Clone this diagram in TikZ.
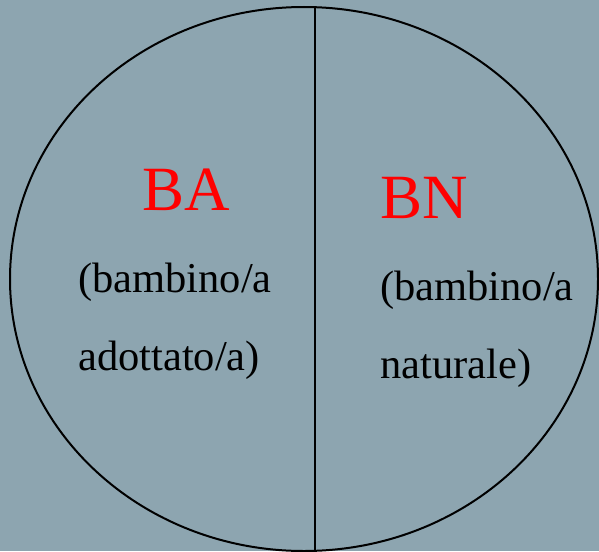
\documentclass[tikz,border=0pt]{standalone}
\usepackage{fontspec}
\setmainfont{Liberation Serif}
\usepackage{xcolor}
\usetikzlibrary{positioning}
\definecolor{slate}{RGB}{141,165,176}

\begin{document}
\begin{tikzpicture}[x=1pt, y=-1pt,
  title/.style={anchor=base west, inner sep=0pt, text=red, font=\fontsize{63}{63}\selectfont},
  desc/.style={anchor=base west, inner sep=0pt, font=\fontsize{42.5}{42.5}\selectfont}]
% Background
\fill[slate] (0,0) rectangle (599,551);
\useasboundingbox (0,0) rectangle (599,551);
% Circle split in two
\draw[line width=2pt] (304,279) ellipse [x radius=294, y radius=272];
\draw[line width=2pt] (315,7) -- (315,551);
% Left half
\node[title] (ba) at (142,210) {BA};
\node[desc] (baone) at (78,292) {(bambino/a};
\node[desc] (batwo) at (78,370) {adottato/a)};
% Right half
\node[title] (bn) at (380,218) {BN};
\node[desc] (bnone) at (380,300) {(bambino/a};
\node[desc] (bntwo) at (380,378) {naturale)};
\end{tikzpicture}
\end{document}
